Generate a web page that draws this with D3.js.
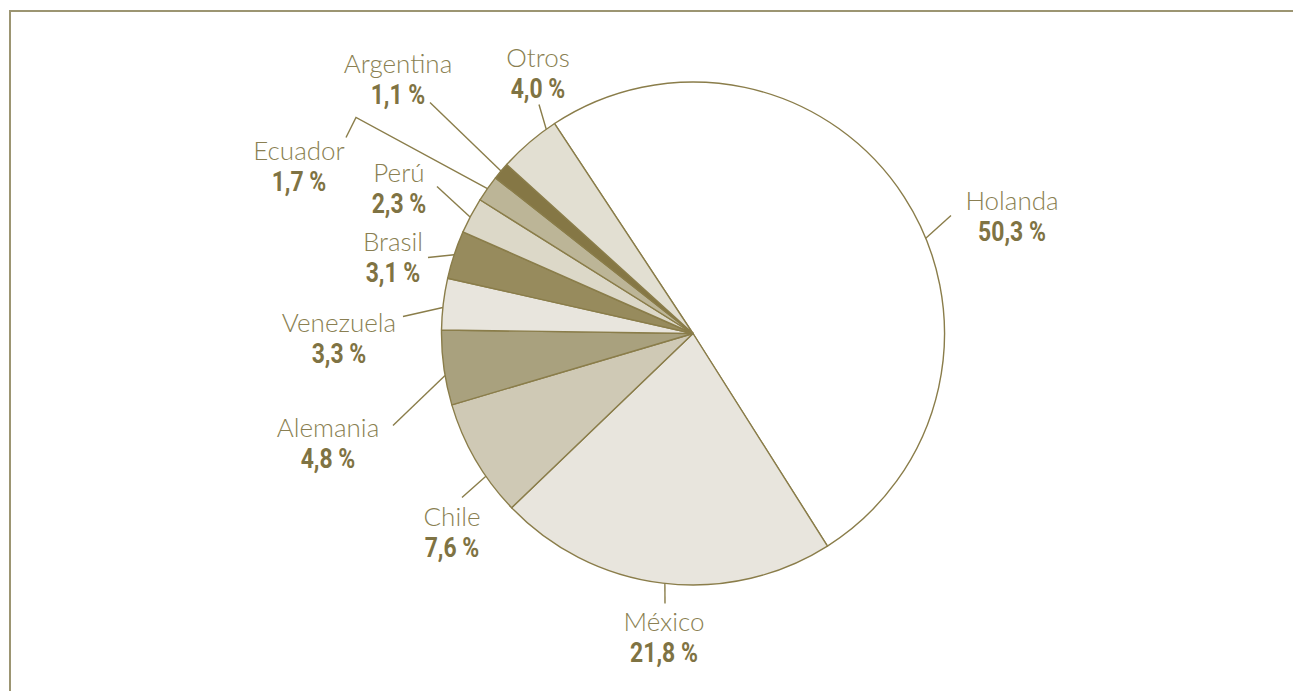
<!DOCTYPE html>
<html>
<head>
<meta charset="utf-8">
<script src="https://cdn.jsdelivr.net/npm/d3@7"></script>
<style>
  html, body { margin: 0; padding: 0; background: #fff; }
  svg { display: block; }
  .name { font-family: Lato, "Open Sans", sans-serif; font-weight: 300; font-size: 26px; fill: #8a7f52; }
  .pct { font-family: Roboto, "Liberation Sans", sans-serif; font-weight: 700; font-size: 27px; fill: #7f7343; }
</style>
</head>
<body>
<svg id="chart" width="1293" height="691"></svg>
<script>
// ---- data ----
const categories = ["Holanda", "México", "Chile", "Alemania", "Venezuela", "Brasil", "Perú", "Ecuador", "Argentina", "Otros"];
const values = [50.3, 21.8, 7.6, 4.8, 3.3, 3.1, 2.3, 1.7, 1.1, 4.0];
const labels = ["50,3 %", "21,8 %", "7,6 %", "4,8 %", "3,3 %", "3,1 %", "2,3 %", "1,7 %", "1,1 %", "4,0 %"];
const colors = ["#ffffff", "#e8e5dd", "#cfc9b5", "#a9a17e", "#e8e5dd", "#978b5d", "#dcd8c8", "#bcb597", "#857745", "#e2dfd2"];

// ---- layout (annotation placement, relative to pie centre) ----
// angleShift: degrees added to slice mid-angle for leader start
// end: leader end point; label: centre x / name baseline; elbow: optional extra leader point
const labelLayout = [
  { angleShift: 10.6, end: [258, -118], label: [319, -124] },
  { angleShift: -0.5, end: [-28, 270], label: [-29, 297] },
  { angleShift: -4.4, end: [-231, 164], label: [-241, 192] },
  { angleShift: -1.8, end: [-300, 92], label: [-365, 103] },
  { angleShift: -0.8, end: [-290, -17], label: [-354, -2] },
  { angleShift: 0, end: [-265, -76], label: [-300, -83] },
  { angleShift: -0.4, end: [-256, -147], label: [-294, -152] },
  { angleShift: 0, end: [-337, -216], elbow: [-347, -196], label: [-394, -174] },
  { angleShift: 0, end: [-263, -231], label: [-295, -261] },
  { angleShift: 4.9, end: [-154, -229], label: [-155, -267] }
];

const W = 1293, H = 691;
const cx = 693, cy = 333.5, R = 251.5;
const startDeg = -33.4;

const svg = d3.select("#chart");

// frame
svg.append("line").attr("x1", 10).attr("y1", 11).attr("x2", W).attr("y2", 11)
  .attr("stroke", "#9c9572").attr("stroke-width", 2);
svg.append("line").attr("x1", 10).attr("y1", 10).attr("x2", 10).attr("y2", H)
  .attr("stroke", "#9c9572").attr("stroke-width", 2);

const rad = d => d * Math.PI / 180;
const pie = d3.pie().sort(null).value(d => d.v)
  .startAngle(rad(startDeg)).endAngle(rad(startDeg + 360));
const data = categories.map((c, i) => ({ c, v: values[i], l: labels[i], col: colors[i], lay: labelLayout[i] }));
const arcs = pie(data);
const arc = d3.arc().innerRadius(0).outerRadius(R);

const g = svg.append("g").attr("transform", `translate(${cx},${cy})`);

g.selectAll("path.slice").data(arcs).join("path")
  .attr("class", "slice")
  .attr("d", arc)
  .attr("fill", d => d.data.col)
  .attr("stroke", "#8a7d4a")
  .attr("stroke-width", 1.4)
  .attr("stroke-linejoin", "round");

// leaders
const lineColor = "#8a7d4a";
arcs.forEach(a => {
  const lay = a.data.lay;
  const ang = (a.startAngle + a.endAngle) / 2 + rad(lay.angleShift);
  const p0 = [R * Math.sin(ang), -R * Math.cos(ang)];
  const pts = [p0, lay.end];
  if (lay.elbow) pts.push(lay.elbow);
  g.append("path")
    .attr("d", d3.line()(pts))
    .attr("fill", "none")
    .attr("stroke", lineColor)
    .attr("stroke-width", 1.4);
  const t = g.append("g").attr("transform", `translate(${lay.label[0]},${lay.label[1]})`);
  t.append("text").attr("class", "name").attr("text-anchor", "middle").attr("y", 0).text(a.data.c);
  t.append("g").attr("transform", "translate(0,31.5) scale(0.85,1)")
    .append("text").attr("class", "pct").attr("text-anchor", "middle").text(a.data.l);
});
</script>
</body>
</html>
